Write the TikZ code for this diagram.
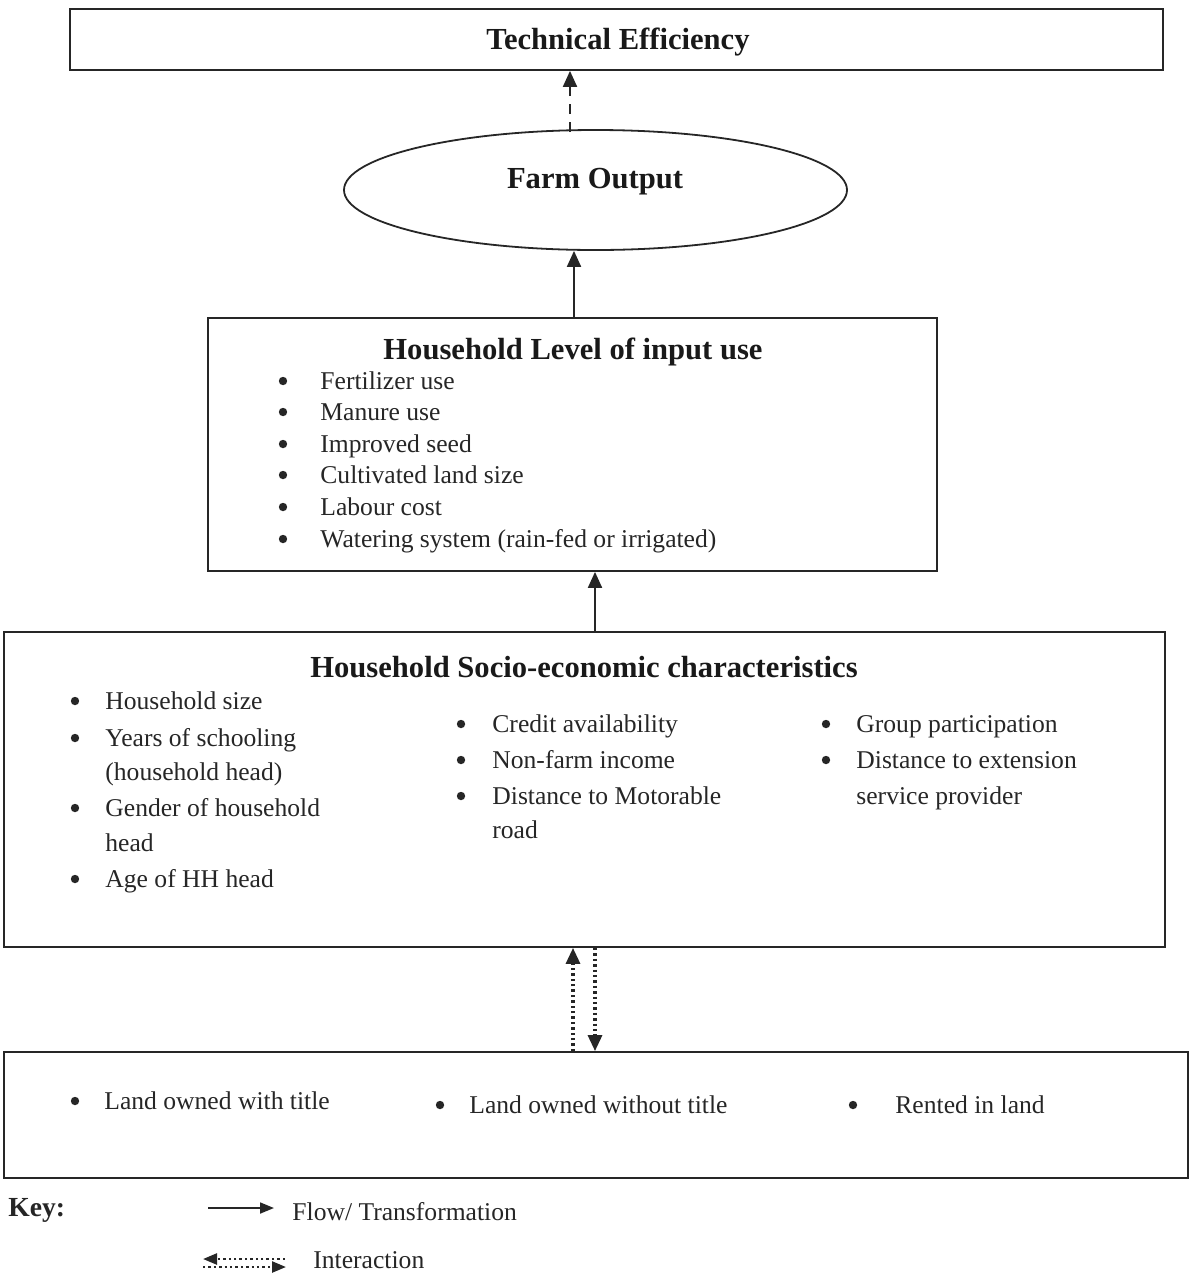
\documentclass[tikz,border=0pt]{standalone}
\usepackage{fontspec}
\setmainfont{Liberation Serif}
\usetikzlibrary{arrows.meta,shapes.geometric}
\newcommand\bitem[5]{\node[bul] (#1b) at (#2,#4) {}; \node[itm] (#1) at (#3,#4) {#5};}
\begin{document}
\begin{tikzpicture}[x=0.5pt,y=-0.5pt,
  box/.style={draw=black!85,line width=0.9pt,inner sep=0pt},
  ttl/.style={font=\fontsize{15.3pt}{18pt}\selectfont\bfseries,inner sep=0pt,yshift=-2pt,text=black!90},
  itm/.style={font=\fontsize{12.8pt}{15pt}\selectfont,anchor=west,inner sep=0pt,text height=0.85em,text depth=0.05em,text=black!85},
  bul/.style={circle,fill=black!85,inner sep=0pt,minimum size=4.2pt},
  flow/.style={line width=1pt,draw=black!85,-{Triangle[length=8pt,width=7pt]}},
  dflow/.style={flow,dash pattern=on 5pt off 4pt},
  inter/.style={line width=1.6pt,draw=black!85,dash pattern=on 1.2pt off 1.5pt,-{Triangle[length=8pt,width=7pt]}}]
\useasboundingbox (0,0) rectangle (1190,1275);
% boxes
\node[box,minimum width=546.5pt,minimum height=30.5pt] (te) at (616.5,39.5) {};
\node[ttl] at (618,38) {Technical Efficiency};
\node[box,ellipse,minimum width=251.5pt,minimum height=60pt] (fo) at (595.5,190) {};
\node[ttl] at (595,178) {Farm Output};
\node[box,minimum width=364.5pt,minimum height=126.5pt] (b2) at (572.5,444.5) {};
\node[ttl] at (573,348) {Household Level of input use};
\node[box,minimum width=580.5pt,minimum height=157.5pt] (b3) at (584.5,789.5) {};
\node[ttl] at (584,663) {Household Socio-economic characteristics};
\node[box,minimum width=592pt,minimum height=63pt] (b4) at (596,1115) {};
% input use items
\bitem{i1}{283}{320}{381}{Fertilizer use}
\bitem{i2}{283}{320}{412}{Manure use}
\bitem{i3}{283}{320}{444}{Improved seed}
\bitem{i4}{283}{320}{475}{Cultivated land size}
\bitem{i5}{283}{320}{507}{Labour cost}
\bitem{i6}{283}{320}{539}{Watering system (rain-fed or irrigated)}
% socio-economic items
\bitem{s1}{75}{105}{701}{Household size}
\bitem{s2}{75}{105}{738}{Years of schooling}
\node[itm] (s2c) at (105,772) {(household head)};
\bitem{s3}{75}{105}{808}{Gender of household}
\node[itm] (s3c) at (105,843) {head};
\bitem{s4}{75}{105}{879}{Age of HH head}
\bitem{c1}{461}{492}{724}{Credit availability}
\bitem{c2}{461}{492}{760}{Non-farm income}
\bitem{c3}{461}{492}{796}{Distance to Motorable}
\node[itm] (c3c) at (492,830) {road};
\bitem{g1}{826}{856}{724}{Group participation}
\bitem{g2}{826}{856}{760}{Distance to extension}
\node[itm] (g2c) at (856,796) {service provider};
% land items
\bitem{l1}{75}{104}{1101}{Land owned with title}
\bitem{l2}{440}{469}{1105}{Land owned without title}
\bitem{l3}{853}{895}{1105}{Rented in land}
% connectors
\coordinate (d1) at ([xshift=-12.75pt]fo.north);
\draw[dflow] ([yshift=-1.5pt]d1) -- (d1 |- te.south);
\coordinate (a1) at ([xshift=0.75pt]b2.north);
\draw[flow] (a1) -- (a1 |- fo.south);
\coordinate (a2) at ([xshift=5.25pt]b3.north);
\draw[flow] (a2) -- (a2 |- b2.south);
\coordinate (x1) at ([xshift=-5.75pt]b3.south);
\coordinate (x2) at ([xshift=5.25pt]b3.south);
\draw[inter] (x1 |- b4.north) -- (x1);
\draw[inter] (x2) -- (x2 |- b4.north);
% key
\node[font=\fontsize{13.8pt}{16pt}\selectfont\bfseries,anchor=west,inner sep=0pt,text=black!85] (key) at (8,1210) {Key:};
\coordinate (k1a) at (208,1208);
\coordinate (k1b) at (274,1208);
\draw[flow,line width=0.9pt,-{Triangle[length=7pt,width=5.5pt]}] (k1a) -- (k1b);
\node[itm] (k1t) at (292,1212) {Flow/ Transformation};
\coordinate (k2a) at (203,1259);
\coordinate (k2b) at (285,1259);
\coordinate (k3a) at (203,1267);
\coordinate (k3b) at (286,1267);
\draw[inter,line width=1.2pt,-{Triangle[length=7pt,width=5.5pt]}] (k2b) -- (k2a);
\draw[inter,line width=1.2pt,-{Triangle[length=7pt,width=5.5pt]}] (k3a) -- (k3b);
\node[itm] (k2t) at (313,1260) {Interaction};
\end{tikzpicture}
\end{document}
